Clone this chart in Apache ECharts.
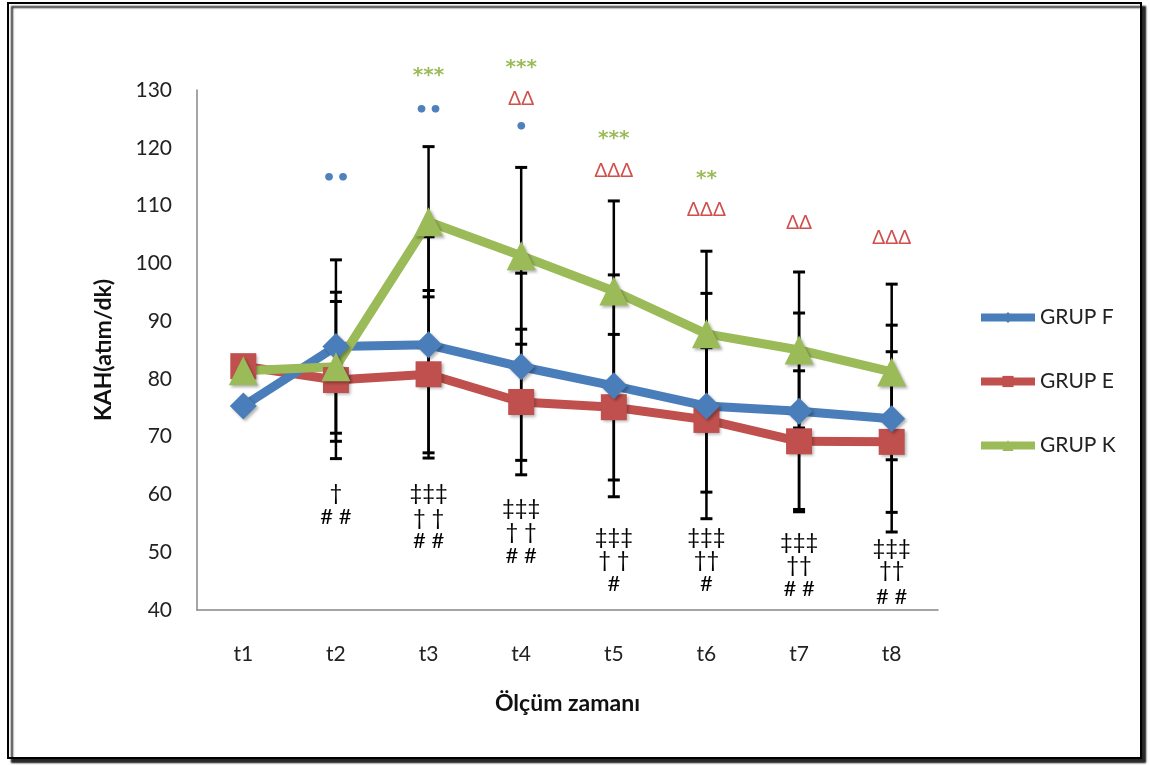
<!DOCTYPE html>
<html>
<head>
<meta charset="utf-8">
<script src="https://cdn.jsdelivr.net/npm/echarts@6/dist/echarts.min.js"></script>
<style>
  html, body { margin: 0; padding: 0; background: #fff; }
</style>
</head>
<body>
<div id="chartLine" style="width: 1150px; height: 765px"></div>
<script>
const categories = ['t1', 't2', 't3', 't4', 't5', 't6', 't7', 't8'];
const yTicks = [40, 50, 60, 70, 80, 90, 100, 110, 120, 130];

// ortalama degerler
const grupF = [75.3, 85.6, 85.9, 82.1, 78.8, 75.3, 74.4, 73.1];
const grupE = [82.2, 79.8, 80.8, 76.0, 75.1, 72.9, 69.2, 69.1];
const grupK = [81.4, 82.1, 107.2, 101.3, 95.2, 87.8, 85.0, 81.2];

// standart sapma (hata cubuklari)
const sdF = [0, 15.0, 18.7, 16.2, 19.2, 19.5, 17.0, 16.2];
const sdE = [0, 13.6, 14.5, 12.6, 12.6, 12.5, 12.2, 15.6];
const sdK = [0, 12.9, 13.0, 15.3, 15.6, 14.3, 13.5, 15.2];

// anlamlilik isaretleri: [zaman, y, metin]
const dotsF = [['t2', 114.6, '••'], ['t3', 126.4, '••'], ['t4', 123.4, '•']];
const starsK = [['t3', 132.5, '***'], ['t4', 133.9, '***'], ['t5', 121.6, '***'], ['t6', 114.7, '**']];
const deltasE = [['t4', 128.4, 'ΔΔ'], ['t5', 116.0, 'ΔΔΔ'], ['t6', 109.2, 'ΔΔΔ'], ['t7', 107.0, 'ΔΔ'], ['t8', 104.4, 'ΔΔΔ']];
const daggers = [
    ['t2', 60.2, '†'], ['t2', 56.1, '# #'],
    ['t3', 60.2, '‡‡‡'], ['t3', 55.9, '† †'], ['t3', 51.9, '# #'],
    ['t4', 57.7, '‡‡‡'], ['t4', 53.5, '† †'], ['t4', 49.3, '# #'],
    ['t5', 52.6, '‡‡‡'], ['t5', 48.7, '† †'], ['t5', 44.5, '#'],
    ['t6', 52.6, '‡‡‡'], ['t6', 48.7, '††'], ['t6', 44.5, '#'],
    ['t7', 51.8, '‡‡‡'], ['t7', 47.8, '††'], ['t7', 43.6, '# #'],
    ['t8', 50.7, '‡‡‡'], ['t8', 46.9, '††'], ['t8', 42.2, '# #']
];

const FONT = 'Lato, "Open Sans", "DejaVu Sans", sans-serif';
const SYMFONT = '"DejaVu Sans", sans-serif';

function errorBars(name, means, sds) {
    const data = [];
    means.forEach((m, i) => {
        if (sds[i] > 0) data.push([i, m - sds[i], m + sds[i]]);
    });
    return {
        name: name + ' sd',
        type: 'custom',
        z: 1,
        silent: true,
        data: data,
        renderItem: function (params, api) {
            const lo = api.coord([api.value(0), api.value(1)]);
            const hi = api.coord([api.value(0), api.value(2)]);
            const half = 6;
            const cap = { stroke: '#000', lineWidth: 3 };
            return {
                type: 'group',
                children: [
                    { type: 'line', shape: { x1: lo[0], y1: lo[1], x2: hi[0], y2: hi[1] }, style: { stroke: '#000', lineWidth: 2.5 } },
                    { type: 'line', shape: { x1: hi[0] - half, y1: hi[1], x2: hi[0] + half, y2: hi[1] }, style: cap },
                    { type: 'line', shape: { x1: lo[0] - half, y1: lo[1], x2: lo[0] + half, y2: lo[1] }, style: cap }
                ]
            };
        }
    };
}

function marks(list, color, size, family, weight) {
    return {
        type: 'custom',
        z: 5,
        silent: true,
        data: list.map((d) => [d[0], d[1]]),
        renderItem: function (params, api) {
            const p = api.coord([api.value(0), api.value(1)]);
            return {
                type: 'text',
                x: p[0],
                y: p[1],
                style: {
                    text: list[params.dataIndex][2],
                    fill: color,
                    fontSize: size,
                    fontFamily: family,
                    fontWeight: weight || 'normal',
                    align: 'center',
                    verticalAlign: 'middle'
                }
            };
        }
    };
}

var myChart = echarts.init(document.getElementById('chartLine'));
myChart.setOption({
    animation: false,
    backgroundColor: '#fff',
    graphic: [{
        type: 'rect',
        z: -100,
        shape: { x: 8, y: 3, width: 1133, height: 755 },
        style: {
            fill: '#fff',
            stroke: '#000',
            lineWidth: 2,
            shadowColor: 'rgba(0,0,0,0.85)',
            shadowBlur: 2,
            shadowOffsetX: 4,
            shadowOffsetY: 4
        }
    }],
    grid: {
        left: 197,
        right: 212,
        top: 90,
        bottom: 155
    },
    legend: {
        orient: 'vertical',
        left: 972,
        top: 302,
        itemWidth: 54,
        itemHeight: 14,
        itemGap: 43,
        itemStyle: { shadowBlur: 0, shadowOffsetX: 0, shadowOffsetY: 0 },
        lineStyle: { width: 8 },
        textStyle: { fontFamily: FONT, fontSize: 21, color: '#222' },
        data: ['GRUP F', 'GRUP E', 'GRUP K']
    },
    xAxis: {
        type: 'category',
        data: categories,
        boundaryGap: true,
        name: 'Ölçüm zamanı',
        nameLocation: 'middle',
        nameGap: 82,
        nameTextStyle: { fontFamily: FONT, fontSize: 23, fontWeight: 'bold', color: '#111' },
        axisLine: { lineStyle: { color: '#878787', width: 1.5 } },
        axisTick: { show: false },
        axisLabel: { fontFamily: FONT, fontSize: 21, color: '#222', margin: 34 }
    },
    yAxis: {
        type: 'value',
        min: yTicks[0],
        max: yTicks[yTicks.length - 1],
        interval: 10,
        name: 'KAH(atım/dk)',
        nameLocation: 'middle',
        nameGap: 82,
        nameTextStyle: { fontFamily: FONT, fontSize: 23, fontWeight: 'bold', color: '#111' },
        axisLine: { show: true, lineStyle: { color: '#878787', width: 1.5 } },
        axisTick: { show: false },
        splitLine: { show: false },
        axisLabel: { fontFamily: FONT, fontSize: 21, color: '#222', margin: 25 }
    },
    series: [
        errorBars('GRUP F', grupF, sdF),
        errorBars('GRUP E', grupE, sdE),
        errorBars('GRUP K', grupK, sdK),
        {
            name: 'GRUP E',
            type: 'line',
            z: 3,
            data: grupE,
            symbol: 'rect',
            symbolSize: 26,
            color: '#C0504D',
            lineStyle: { width: 9, color: '#C0504D' },
            itemStyle: { color: '#C0504D', shadowColor: 'rgba(0,0,0,0.3)', shadowBlur: 3, shadowOffsetX: 2, shadowOffsetY: 2 }
        },
        {
            name: 'GRUP F',
            type: 'line',
            z: 3,
            data: grupF,
            symbol: 'diamond',
            symbolSize: 27,
            color: '#4A7EBB',
            lineStyle: { width: 9, color: '#4A7EBB' },
            itemStyle: { color: '#4A7EBB', shadowColor: 'rgba(0,0,0,0.3)', shadowBlur: 3, shadowOffsetX: 2, shadowOffsetY: 2 }
        },
        {
            name: 'GRUP K',
            type: 'line',
            z: 3,
            data: grupK,
            symbol: 'triangle',
            symbolSize: 29,
            color: '#9BBB59',
            lineStyle: { width: 9, color: '#9BBB59' },
            itemStyle: { color: '#9BBB59', shadowColor: 'rgba(0,0,0,0.3)', shadowBlur: 3, shadowOffsetX: 2, shadowOffsetY: 2 }
        },
        marks(dotsF, '#4F81BD', 22, SYMFONT, 'bold'),
        marks(starsK, '#9BBB59', 20, SYMFONT, 'bold'),
        marks(deltasE, '#D0504D', 19, FONT),
        marks(daggers, '#000', 22, FONT)
    ]
});
</script>
</body>
</html>
